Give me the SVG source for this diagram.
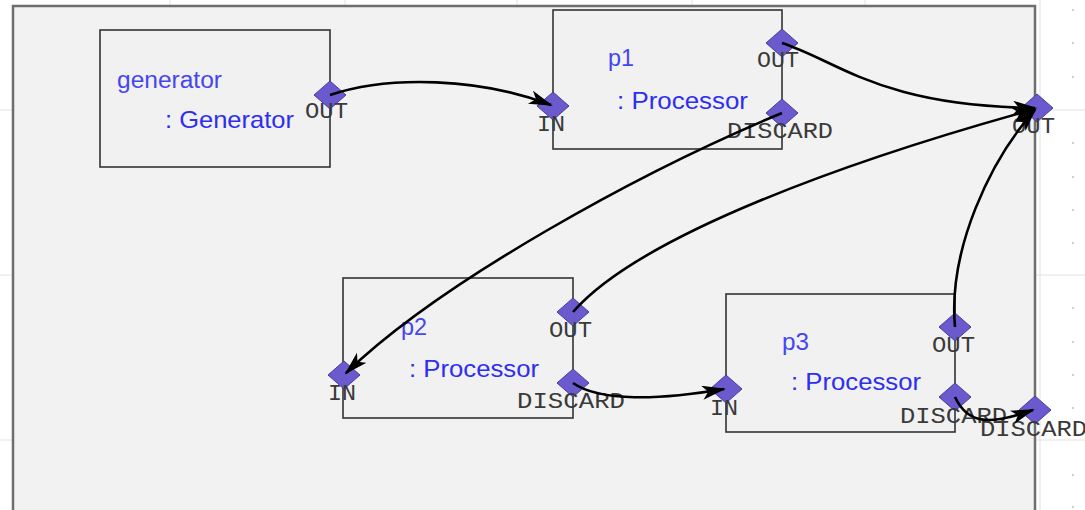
<svg xmlns="http://www.w3.org/2000/svg" xmlns:xlink="http://www.w3.org/1999/xlink" width="1085" height="510" viewBox="0 0 1085 510">
<style>
.grid{stroke:#e2e2e2;stroke-width:1;fill:none}
.tick{stroke:#c0c0c0;stroke-width:1.5}
.container{fill:#f2f2f2;stroke:#6e6e6e;stroke-width:2.5}
.node{fill:#f1f1f1;stroke:#333;stroke-width:1.6}
.port{fill:#6a5acd;stroke:#4a3c9c;stroke-width:1}
.inst{font-family:"Liberation Sans",Arial,sans-serif;font-size:23px;fill:#4646ee}
.cls{font-family:"Liberation Sans",Arial,sans-serif;font-size:24px;fill:#2e2ef0}
.plabel{font-family:"Liberation Mono","DejaVu Sans Mono",monospace;font-size:22px;fill:#3a3a3a}
.conn{fill:none;stroke:#000;stroke-width:2.6}
</style>
<defs>
<polygon id="pd" points="0,-14 16,0 0,14 -16,0"/>
<marker id="arr" markerUnits="userSpaceOnUse" markerWidth="28" markerHeight="18" refX="22" refY="7" orient="auto">
<path d="M0,0 L24,7 L0,14 L6,7 z" fill="#000"/>
</marker>
</defs>
<rect width="1085" height="510" fill="#ffffff"/>
<g id="grid">
<path class="grid" d="M170,0V510M345,0V510M517,0V510M692,0V510M865,0V510M1040,0V510M0,110H1085M0,275H1085M0,440H1085"/>
<path class="tick" d="M1072,10h2M1072,43h2M1072,77h2M1072,143h2M1072,177h2M1072,210h2M1072,243h2M1072,308h2M1072,342h2M1072,375h2M1072,408h2M1072,475h2M1072,507h2"/>
</g>
<g id="container">
<rect class="container" x="13" y="6" width="1022" height="520"/>
</g>
<g id="generator">
<rect class="node" x="100" y="30" width="230" height="137"/>
<text class="inst" x="117" y="88" textLength="105" lengthAdjust="spacingAndGlyphs">generator</text>
<text class="cls" x="165" y="128" textLength="129" lengthAdjust="spacingAndGlyphs">: Generator</text>
<use href="#pd" class="port" x="330" y="95"/>
<text class="plabel" x="305" y="118" textLength="43" lengthAdjust="spacingAndGlyphs">OUT</text>
</g>
<g id="p1">
<rect class="node" x="553" y="10" width="229" height="139"/>
<text class="inst" x="608" y="66" textLength="26" lengthAdjust="spacingAndGlyphs">p1</text>
<text class="cls" x="617" y="109" textLength="131" lengthAdjust="spacingAndGlyphs">: Processor</text>
<use href="#pd" class="port" x="553" y="106"/>
<use href="#pd" class="port" x="782" y="43"/>
<use href="#pd" class="port" x="782" y="113"/>
<text class="plabel" x="537" y="131" textLength="28" lengthAdjust="spacingAndGlyphs">IN</text>
<text class="plabel" x="757" y="67" textLength="42" lengthAdjust="spacingAndGlyphs">OUT</text>
<text class="plabel" x="727" y="138" textLength="106" lengthAdjust="spacingAndGlyphs">DISCARD</text>
</g>
<g id="p2">
<rect class="node" x="343" y="278" width="230" height="140"/>
<text class="inst" x="401" y="335" textLength="26" lengthAdjust="spacingAndGlyphs">p2</text>
<text class="cls" x="409" y="377" textLength="130" lengthAdjust="spacingAndGlyphs">: Processor</text>
<use href="#pd" class="port" x="344" y="375"/>
<use href="#pd" class="port" x="573" y="312"/>
<use href="#pd" class="port" x="573" y="383"/>
<text class="plabel" x="328" y="400" textLength="28" lengthAdjust="spacingAndGlyphs">IN</text>
<text class="plabel" x="549" y="337" textLength="43" lengthAdjust="spacingAndGlyphs">OUT</text>
<text class="plabel" x="517" y="408" textLength="108" lengthAdjust="spacingAndGlyphs">DISCARD</text>
</g>
<g id="p3">
<rect class="node" x="726" y="294" width="229" height="138"/>
<text class="inst" x="782" y="350" textLength="27" lengthAdjust="spacingAndGlyphs">p3</text>
<text class="cls" x="791" y="390" textLength="130" lengthAdjust="spacingAndGlyphs">: Processor</text>
<use href="#pd" class="port" x="726" y="389"/>
<use href="#pd" class="port" x="955" y="327"/>
<use href="#pd" class="port" x="955" y="397"/>
<text class="plabel" x="710" y="415" textLength="28" lengthAdjust="spacingAndGlyphs">IN</text>
<text class="plabel" x="932" y="352" textLength="43" lengthAdjust="spacingAndGlyphs">OUT</text>
<text class="plabel" x="900" y="423" textLength="107" lengthAdjust="spacingAndGlyphs">DISCARD</text>
</g>
<g id="container-ports">
<use href="#pd" class="port" x="1037" y="108"/>
<use href="#pd" class="port" x="1035" y="410"/>
<text class="plabel" x="1012" y="133" textLength="43" lengthAdjust="spacingAndGlyphs">OUT</text>
<text class="plabel" x="980" y="436" textLength="107" lengthAdjust="spacingAndGlyphs">DISCARD</text>
</g>
<g id="connectors">
<path class="conn" marker-end="url(#arr)" d="M330,95 C390,75 480,78 551,105"/>
<path class="conn" marker-end="url(#arr)" d="M782,43 C840,62 880,106 1035,108"/>
<path class="conn" marker-end="url(#arr)" d="M782,113 C640,172 440,282 346,373"/>
<path class="conn" marker-end="url(#arr)" d="M573,312 C640,235 850,160 1035,109"/>
<path class="conn" marker-end="url(#arr)" d="M573,383 C600,402 660,400 724,389"/>
<path class="conn" marker-end="url(#arr)" d="M955,327 C948,250 990,160 1035,110"/>
<path class="conn" marker-end="url(#arr)" d="M955,397 C968,425 990,425 1033,410"/>
</g>
</svg>
